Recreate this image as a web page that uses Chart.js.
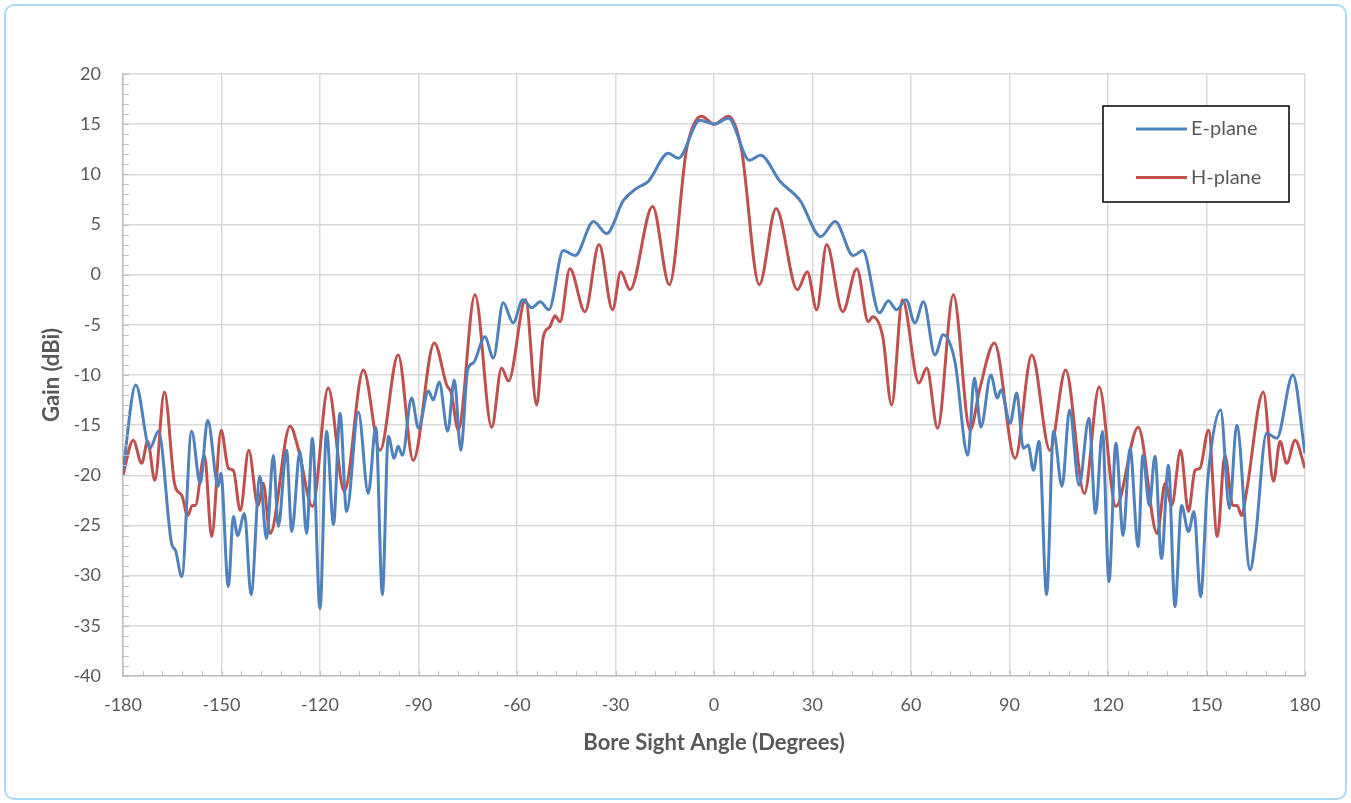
<!DOCTYPE html>
<html>
<head>
<meta charset="utf-8">
<script src="https://cdn.jsdelivr.net/npm/chart.js@4.4.1/dist/chart.umd.min.js"></script>
<style>
    html, body { margin: 0; padding: 0; background: #ffffff; }
    #wrap { position: relative; width: 1351px; height: 803px; }
    #frame {
        position: absolute; left: 4px; top: 4px; width: 1339px; height: 792px;
        border: 2px solid #a9dbf5; border-radius: 10px; pointer-events: none;
    }
    canvas { position: absolute; left: 0; top: 0; }
</style>
</head>
<body>
<div id="wrap">
    <canvas id="chartGain" width="1351" height="803"></canvas>
    <div id="frame"></div>
</div>
<script>
// E-plane pattern: angle (deg) and gain (dBi)
const eAngles = [-180, -176.1, -171.8, -169.2, -165.2, -164.0, -162.1, -159.1, -156.5, -154.2,
    -151.0, -150.2, -147.9, -146.4, -145.1, -143.0, -141.0, -138.3, -136.3, -134.2,
    -132.7, -130.2, -128.6, -126.1, -124.1, -122.3, -120.0, -118.0, -115.9, -113.9,
    -111.9, -108.3, -105.3, -103.0, -101.0, -99.2, -97.4, -96.2, -94.9, -92.1,
    -90.0, -87.0, -85.5, -83.7, -81.1, -79.1, -77.1, -75.0, -73.3, -69.8,
    -67.2, -64.2, -61.2, -58.2, -55.5, -52.9, -50.3, -45.9, -42.3, -36.7,
    -32.7, -27.6, -23.6, -20.0, -13.9, -10.9, -4.3, 0, 4.4, 10.8,
    14.2, 20.1, 26.2, 32.5, 36.9, 42.4, 45.3, 50.4, 53.1, 55.6,
    58.5, 61.2, 63.8, 67.3, 69.8, 73.4, 77.3, 79.3, 81.3, 84.3,
    86.3, 87.4, 90.2, 92.2, 94.2, 95.7, 97.3, 99.0, 101.3, 103.4,
    106.0, 108.3, 111.2, 114.2, 116.2, 118.3, 120.3, 122.4, 124.6, 126.7,
    129.2, 130.6, 132.6, 134.3, 136.3, 138.4, 140.4, 142.4, 144.5, 146.2,
    148.2, 150.3, 154.3, 157.0, 159.2, 163.3, 164.8, 168.3, 171.4, 176.3,
    180];
const eGain = [-19.5, -11.0, -17.3, -15.6, -26.8, -27.5, -30.1, -15.6, -20.8, -14.5,
    -21.1, -19.8, -31.1, -24.1, -26.0, -23.8, -31.9, -20.1, -26.3, -18.0,
    -25.1, -17.5, -25.6, -17.6, -25.8, -16.3, -33.3, -15.6, -24.9, -13.8,
    -23.6, -13.7, -21.8, -15.2, -31.9, -16.1, -18.3, -17.1, -18.0, -12.3,
    -15.3, -11.6, -12.5, -10.7, -15.6, -10.5, -17.5, -9.4, -8.8, -6.2,
    -8.3, -2.8, -4.8, -2.5, -3.3, -2.7, -3.5, 2.4, 1.9, 5.3,
    4.1, 7.4, 8.6, 9.3, 12.1, 11.6, 15.4, 15.0, 15.6, 11.4,
    11.9, 9.3, 7.4, 3.8, 5.3, 1.9, 2.4, -3.8, -2.6, -3.5,
    -2.5, -4.8, -2.7, -8.0, -6.0, -8.7, -18.0, -10.3, -15.2, -10.0,
    -12.3, -11.5, -14.8, -11.8, -17.3, -17.0, -19.5, -16.6, -31.9, -15.6,
    -21.1, -13.5, -21.0, -14.3, -23.8, -15.6, -30.6, -16.8, -26.0, -17.3,
    -27.1, -18.0, -23.0, -18.1, -28.3, -19.0, -33.1, -23.0, -25.6, -23.6,
    -32.1, -20.8, -13.5, -23.3, -15.0, -29.4, -26.6, -15.8, -16.3, -10.0,
    -17.8];

// H-plane pattern
const hAngles = [-180, -176.9, -174.3, -172.5, -170.3, -167.4, -164.2, -162.1, -160.3, -158.9,
    -158.0, -155.2, -153.0, -150.1, -147.9, -146.4, -144.3, -141.7, -138.9, -137.3,
    -135.2, -129.1, -126.5, -122.3, -117.5, -112.6, -106.8, -101.7, -96.2, -91.6,
    -85.2, -81.4, -80.0, -77.9, -72.8, -67.7, -64.7, -62.6, -57.4, -54.0,
    -52.0, -50.0, -48.4, -46.9, -43.9, -39.3, -35.0, -30.9, -28.4, -25.6,
    -18.7, -13.6, -8.3, -3.8, 0, 4.4, 8.3, 13.8, 18.9, 25.4,
    28.4, 31.3, 34.3, 39.2, 43.5, 47.0, 48.3, 51.4, 54.1, 57.4,
    62.4, 64.8, 68.1, 72.9, 78.0, 81.0, 85.4, 91.7, 96.8, 102.3,
    107.1, 112.8, 117.3, 122.4, 129.2, 135.0, 137.4, 139.4, 142.1, 144.5,
    146.5, 148.0, 150.6, 153.3, 155.6, 158.0, 159.3, 160.7, 162.2, 167.3,
    170.4, 172.4, 174.4, 177.0, 180];
const hGain = [-20.0, -16.5, -18.8, -16.6, -20.5, -11.7, -21.0, -22.0, -24.0, -23.0,
    -23.0, -18.0, -26.1, -15.5, -19.3, -19.5, -23.5, -17.5, -23.0, -20.8,
    -25.8, -15.1, -17.5, -23.1, -11.3, -21.6, -9.5, -17.5, -8.0, -18.5,
    -6.8, -11.0, -11.8, -15.5, -2.0, -15.2, -9.3, -10.6, -2.5, -13.0,
    -6.2, -5.2, -4.1, -4.7, 0.6, -3.7, 3.0, -3.5, 0.3, -1.5,
    6.8, -1.0, 12.6, 15.8, 15.0, 15.8, 12.6, -1.0, 6.6, -1.5,
    0.3, -3.5, 3.0, -3.7, 0.6, -4.7, -4.2, -6.2, -13.0, -2.5,
    -10.8, -9.3, -15.3, -2.0, -15.5, -11.3, -6.8, -18.3, -8.0, -17.5,
    -9.5, -21.8, -11.2, -23.1, -15.2, -25.8, -20.8, -23.0, -17.5, -23.6,
    -19.5, -19.3, -15.5, -26.1, -18.0, -23.0, -23.0, -24.0, -21.6, -11.7,
    -20.6, -16.6, -18.8, -16.5, -19.3];

// axis ticks
const xTickMin = -180, xTickMax = 180, xTickStep = 30, xMinorStep = 6;
const yTickMin = -40, yTickMax = 20, yTickStep = 5, yMinorStep = 1;

const seriesLabels = ['E-plane', 'H-plane'];
const seriesColors = ['#4f81bd', '#c0504d'];

const fontFamily = 'Lato, "Open Sans", sans-serif';
const textColor = '#595959';

function toPoints(xs, ys) {
    return xs.map((x, i) => ({ x: x, y: ys[i] }));
}

// small inward ticks between the gridlines, like the spreadsheet axes
const minorTicks = {
    id: 'minorTicks',
    afterDraw(chart) {
        const ctx = chart.ctx;
        const xs = chart.scales.x;
        const ys = chart.scales.y;
        const area = chart.chartArea;
        ctx.save();
        ctx.strokeStyle = '#bfbfbf';
        ctx.lineWidth = 1;
        ctx.beginPath();
        for (let v = xTickMin; v <= xTickMax; v += xMinorStep) {
            const px = Math.round(xs.getPixelForValue(v)) + 0.5;
            ctx.moveTo(px, area.bottom);
            ctx.lineTo(px, area.bottom - 5);
        }
        for (let v = yTickMin; v <= yTickMax; v += yMinorStep) {
            const py = Math.round(ys.getPixelForValue(v)) + 0.5;
            ctx.moveTo(area.left, py);
            ctx.lineTo(area.left + 6, py);
        }
        ctx.stroke();
        ctx.restore();
    }
};

// boxed legend inside the plot, top right
const boxLegend = {
    id: 'boxLegend',
    afterDraw(chart) {
        const ctx = chart.ctx;
        const area = chart.chartArea;
        const bx = area.right - 202;
        const by = area.top + 32;
        ctx.save();
        ctx.fillStyle = '#ffffff';
        ctx.fillRect(bx, by, 186, 96);
        ctx.strokeStyle = '#000000';
        ctx.lineWidth = 1.5;
        ctx.strokeRect(bx, by, 186, 96);
        ctx.font = '20px ' + fontFamily;
        ctx.textBaseline = 'middle';
        chart.data.datasets.forEach((ds, i) => {
            const ly = by + 23 + i * 48.5;
            ctx.strokeStyle = ds.borderColor;
            ctx.lineWidth = 3;
            ctx.beginPath();
            ctx.moveTo(bx + 33, ly);
            ctx.lineTo(bx + 84, ly);
            ctx.stroke();
            ctx.fillStyle = textColor;
            ctx.fillText(ds.label, bx + 88, ly);
        });
        ctx.restore();
    }
};

function initGainChart() {
    const canvas = document.getElementById('chartGain');
    new Chart(canvas, {
        type: 'line',
        data: {
            datasets: [
                {
                    label: seriesLabels[0],
                    data: toPoints(eAngles, eGain),
                    borderColor: seriesColors[0],
                    borderWidth: 3,
                    pointRadius: 0,
                    cubicInterpolationMode: 'monotone',
                    fill: false
                },
                {
                    label: seriesLabels[1],
                    data: toPoints(hAngles, hGain),
                    borderColor: seriesColors[1],
                    borderWidth: 3,
                    pointRadius: 0,
                    cubicInterpolationMode: 'monotone',
                    fill: false
                }
            ]
        },
        options: {
            responsive: false,
            animation: false,
            layout: { padding: { left: 35, top: 74, right: 46, bottom: 43 } },
            plugins: {
                legend: { display: false },
                tooltip: { enabled: false }
            },
            scales: {
                x: {
                    type: 'linear',
                    min: xTickMin,
                    max: xTickMax,
                    ticks: {
                        stepSize: xTickStep,
                        color: textColor,
                        font: { family: fontFamily, size: 18 },
                        padding: 18,
                        maxRotation: 0
                    },
                    grid: { color: '#d9d9d9', lineWidth: 1.5, drawTicks: false },
                    border: { color: '#bfbfbf', width: 1.5 },
                    title: {
                        display: true,
                        text: 'Bore Sight Angle (Degrees)',
                        color: textColor,
                        font: { family: fontFamily, size: 22, weight: 'bold' }
                    },
                    afterFit: function (scale) { scale.height = 84; }
                },
                y: {
                    min: yTickMin,
                    max: yTickMax,
                    ticks: {
                        stepSize: yTickStep,
                        color: textColor,
                        font: { family: fontFamily, size: 18 },
                        padding: 22
                    },
                    grid: { color: '#d9d9d9', lineWidth: 1.5, drawTicks: false },
                    border: { color: '#bfbfbf', width: 1.5 },
                    title: {
                        display: true,
                        text: 'Gain (dBi)',
                        color: textColor,
                        font: { family: fontFamily, size: 22, weight: 'bold' }
                    },
                    afterFit: function (scale) { scale.width = 88; }
                }
            }
        },
        plugins: [minorTicks, boxLegend]
    });
}

window.addEventListener('load', initGainChart);
</script>
</body>
</html>
